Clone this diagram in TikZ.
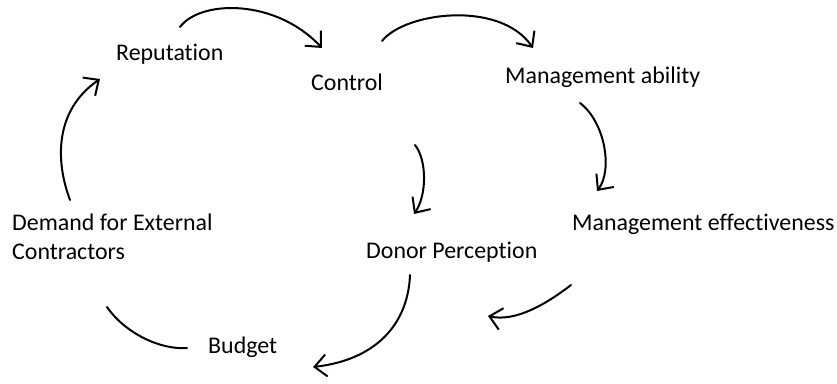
\documentclass[tikz,border=0pt]{standalone}
\usepackage{fontspec}
\setmainfont{Carlito}[Ligatures=NoCommon]
\usetikzlibrary{arrows.meta}
\begin{document}
\begin{tikzpicture}[x=1bp,y=-1bp,
  lbl/.style={inner sep=0pt, anchor=base west, font=\fontsize{24}{28.5}\selectfont, align=left},
  link/.style={line width=2bp, line cap=round},
  arr/.style={link, -{Straight Barb[length=12bp,width=22bp,line width=2bp]}}]
\useasboundingbox (0,0) rectangle (837,383);
\fill[white] (0,0) rectangle (837,383);
% labels
\node[lbl] (rep) at (116,60) {Reputation};
\node[lbl] (ctl) at (311,90) {Control};
\node[lbl] (mab) at (505,83) {Management ability};
\node[lbl] (mef) at (572,230) {Management effectiveness};
\node[lbl] (don) at (366,258) {Donor Perception};
\node[lbl] (dem) at (12,259) {Demand for External\\Contractors};
\node[lbl] (bud) at (208,353) {Budget};
% connector ends
\coordinate (a1s) at (180,27);  \coordinate (a1e) at (322,48);
\coordinate (a2s) at (382,41);  \coordinate (a2e) at (533,48);
\coordinate (a3s) at (580,103); \coordinate (a3e) at (597,191);
\coordinate (a4s) at (415,145); \coordinate (a4e) at (414,214);
\coordinate (a5s) at (571,285); \coordinate (a5e) at (488,316);
\coordinate (a6s) at (410,275); \coordinate (a6e) at (313,367);
\coordinate (a7s) at (187,348); \coordinate (a7e) at (107,307);
\coordinate (a8s) at (70,200);  \coordinate (a8e) at (100,79);
% connectors
\draw[arr] (a1s) .. controls (200,0) and (275,-2) .. (a1e);
\draw[arr] (a2s) .. controls (405,12) and (500,0) .. (a2e);
\draw[arr] (a3s) .. controls (605,122) and (613,170) .. (a3e);
\draw[arr] (a4s) .. controls (427,160) and (427,195) .. (a4e);
\draw[arr] (a5s) .. controls (545,305) and (515,322) .. (a5e);
\draw[arr] (a6s) .. controls (408,325) and (375,360) .. (a6e);
\draw[link] (a7s) .. controls (160,350) and (125,333) .. (a7e);
\draw[arr] (a8s) .. controls (55,160) and (55,110) .. (a8e);
\end{tikzpicture}
\end{document}
